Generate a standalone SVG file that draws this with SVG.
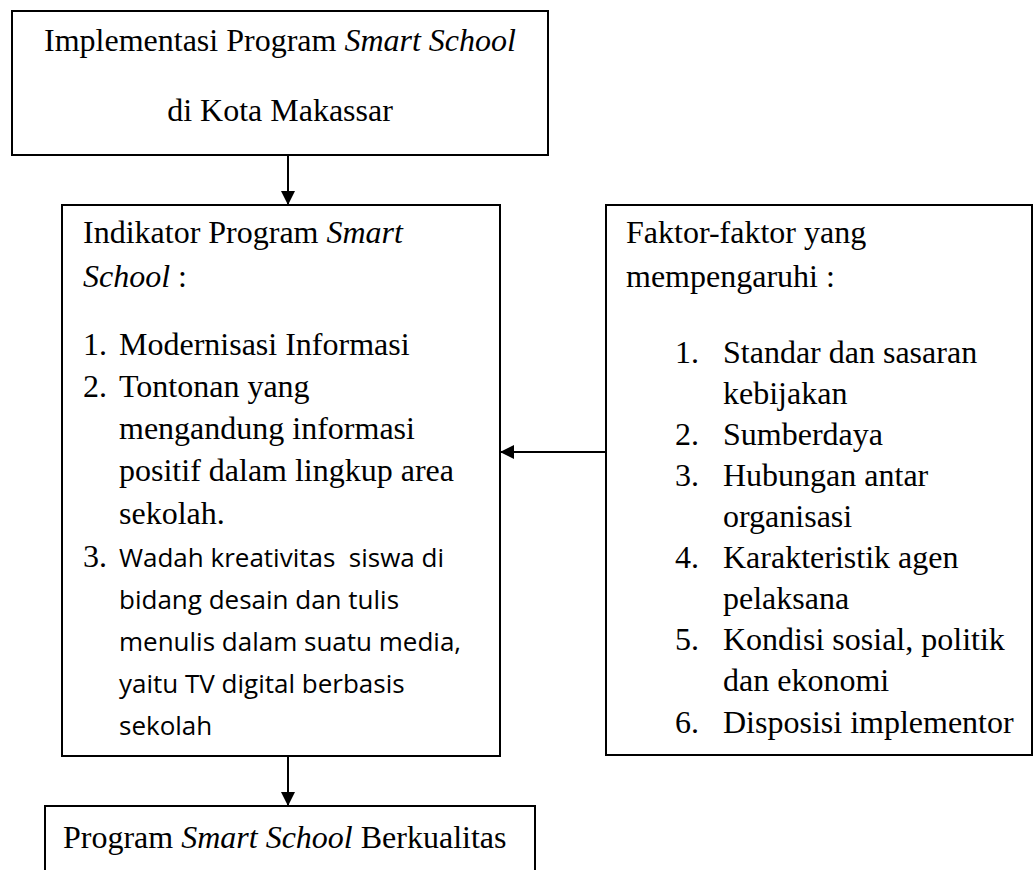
<svg xmlns="http://www.w3.org/2000/svg" width="1035" height="870" viewBox="0 0 1035 870">
<defs>
<marker id="ah" viewBox="0 0 10 10" refX="10" refY="5" markerWidth="14" markerHeight="14" markerUnits="userSpaceOnUse" orient="auto">
<path d="M0,0 L10,5 L0,10 z" fill="#000"/>
</marker>
<style>
.box{fill:#fff;stroke:#000;stroke-width:2}
.t{font-family:"Liberation Serif","Times New Roman",serif;font-size:32px;fill:#000}
.s{font-family:"Open Sans","Liberation Sans",sans-serif;font-size:26px;fill:#000}
.c{text-anchor:middle}
.i{font-style:italic}
.ln{stroke:#000;stroke-width:2;fill:none}
</style>
</defs>
<rect width="1035" height="870" fill="#fff"/>
<g id="connectors">
<line class="ln" x1="288" y1="155" x2="288" y2="205" marker-end="url(#ah)"/>
<line class="ln" x1="606" y1="452" x2="500" y2="452" marker-end="url(#ah)"/>
<line class="ln" x1="288" y1="756" x2="288" y2="806" marker-end="url(#ah)"/>
</g>
<g id="node-top">
<rect class="box" x="12" y="11" width="536" height="144"/>
<text class="t c" x="280" y="51">Implementasi Program <tspan class="i">Smart School</tspan></text>
<text class="t c" x="280" y="121">di Kota Makassar</text>
</g>
<g id="node-indikator">
<rect class="box" x="62" y="205" width="438" height="551"/>
<text class="t" x="83" y="243">Indikator Program <tspan class="i">Smart</tspan></text>
<text class="t" x="83" y="287"><tspan class="i">School</tspan> :</text>
<text class="t" x="83" y="355">1.</text><text class="t" x="119" y="355">Modernisasi Informasi</text>
<text class="t" x="83" y="397">2.</text><text class="t" x="119" y="397">Tontonan yang</text>
<text class="t" x="119" y="439">mengandung informasi</text>
<text class="t" x="119" y="481">positif dalam lingkup area</text>
<text class="t" x="119" y="524">sekolah.</text>
<text class="t" x="83" y="567">3.</text><text class="s" x="119" y="567" xml:space="preserve">Wadah kreativitas  siswa di</text>
<text class="s" x="119" y="609">bidang desain dan tulis</text>
<text class="s" x="119" y="651">menulis dalam suatu media,</text>
<text class="s" x="119" y="693">yaitu TV digital berbasis</text>
<text class="s" x="119" y="735">sekolah</text>
</g>
<g id="node-faktor">
<rect class="box" x="606" y="205" width="426" height="550"/>
<text class="t" x="626" y="243">Faktor-faktor yang</text>
<text class="t" x="626" y="287">mempengaruhi :</text>
<text class="t" x="675" y="363">1.</text><text class="t" x="723" y="363">Standar dan sasaran</text>
<text class="t" x="723" y="404">kebijakan</text>
<text class="t" x="675" y="445">2.</text><text class="t" x="723" y="445">Sumberdaya</text>
<text class="t" x="675" y="486">3.</text><text class="t" x="723" y="486">Hubungan antar</text>
<text class="t" x="723" y="527">organisasi</text>
<text class="t" x="675" y="568">4.</text><text class="t" x="723" y="568">Karakteristik agen</text>
<text class="t" x="723" y="609">pelaksana</text>
<text class="t" x="675" y="650">5.</text><text class="t" x="723" y="650">Kondisi sosial, politik</text>
<text class="t" x="723" y="691">dan ekonomi</text>
<text class="t" x="675" y="733">6.</text><text class="t" x="723" y="733">Disposisi implementor</text>
</g>
<g id="node-hasil">
<rect class="box" x="45" y="806" width="490" height="100"/>
<text class="t" x="63" y="848">Program <tspan class="i">Smart School</tspan> Berkualitas</text>
</g>
</svg>
